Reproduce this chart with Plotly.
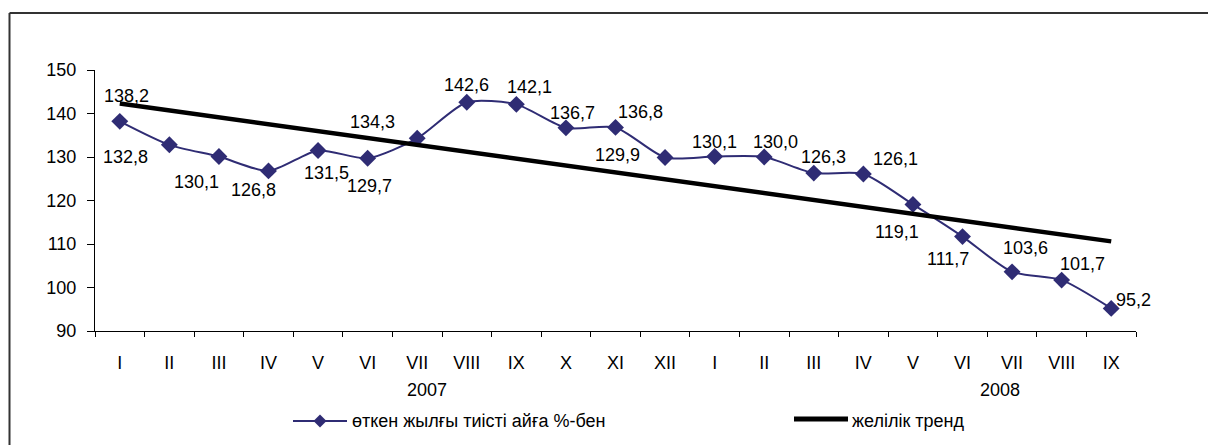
import plotly.graph_objects as go

months = ["I", "II", "III", "IV", "V", "VI", "VII", "VIII", "IX", "X", "XI", "XII",
          "I", "II", "III", "IV", "V", "VI", "VII", "VIII", "IX"]
years = ["2007", "2008"]
values = [138.2, 132.8, 130.1, 126.8, 131.5, 129.7, 134.3, 142.6, 142.1, 136.7, 136.8, 129.9,
          130.1, 130.0, 126.3, 126.1, 119.1, 111.7, 103.6, 101.7, 95.2]
trend_ends = [142.3, 110.6]
series_name = "өткен жылғы тиісті айға %-бен"
trend_name = "желілік тренд"

# label pixel offsets (dx right, dy down) for each data label
label_offsets = [(7, -25), (-44, 12), (-22, 25), (-15, 19), (8, 23), (2, 28), (-45, -16),
                 (0, -17), (13, -17), (7, -15), (25, -15), (-48, -2), (0, -15), (11, -15),
                 (10, -16), (32, -15), (-16, 28), (-15, 22), (13, -24), (21, -16), (22, -8)]

W, H = 1208, 445
L, R, T, B = 95, 72, 70, 114
PW, PH = W - L - R, H - T - B
FONT = "Liberation Sans, Arial, sans-serif"
FS = 18
NAVY = "#2F2C74"

def px(x):  # page pixel x -> paper
    return (x - L) / PW

def py(y):  # page pixel y -> paper
    return (H - B - y) / PH

xs = list(range(len(values)))

fig = go.Figure()
fig.add_trace(go.Scatter(
    x=xs, y=values, mode="lines+markers",
    line=dict(color=NAVY, width=2, shape="spline", smoothing=0.7),
    marker=dict(symbol="diamond", size=13, color=NAVY),
    name=series_name, showlegend=False, cliponaxis=False))
fig.add_trace(go.Scatter(
    x=[xs[0], xs[-1]], y=trend_ends, mode="lines",
    line=dict(color="black", width=4.5),
    name=trend_name, showlegend=False, cliponaxis=False))

annotations = []
for i, v in enumerate(values):
    dx, dy = label_offsets[i]
    annotations.append(dict(x=i, y=v, xref="x", yref="y", text=f"{v:.1f}".replace(".", ","),
                            showarrow=False, xshift=dx, yshift=-dy,
                            font=dict(family=FONT, size=FS, color="black")))
for yr, xpos in zip(years, [6.2, 17.75]):
    annotations.append(dict(x=xpos, y=py(390), xref="x", yref="paper", text=yr,
                            showarrow=False, yanchor="middle",
                            font=dict(family=FONT, size=FS, color="black")))
# manual legend texts
annotations.append(dict(x=px(350), y=py(421), xref="paper", yref="paper", text=series_name,
                        showarrow=False, xanchor="left", yanchor="middle",
                        font=dict(family=FONT, size=FS, color="black")))
annotations.append(dict(x=px(850), y=py(421), xref="paper", yref="paper", text=trend_name,
                        showarrow=False, xanchor="left", yanchor="middle",
                        font=dict(family=FONT, size=FS, color="black")))

shapes = []
# chart border (top and left visible)
shapes.append(dict(type="line", xref="paper", yref="paper", x0=px(9.5), x1=px(1230),
                   y0=py(13), y1=py(13), line=dict(color="#333333", width=2)))
shapes.append(dict(type="line", xref="paper", yref="paper", x0=px(9.5), x1=px(9.5),
                   y0=py(13), y1=py(460), line=dict(color="#333333", width=2)))
# legend symbols
shapes.append(dict(type="line", xref="paper", yref="paper", x0=px(293), x1=px(347),
                   y0=py(421), y1=py(421), line=dict(color=NAVY, width=2)))
cx, cy, s = 320, 421, 6.5
path = (f"M {px(cx - s)},{py(cy)} L {px(cx)},{py(cy - s)} L {px(cx + s)},{py(cy)} "
        f"L {px(cx)},{py(cy + s)} Z")
shapes.append(dict(type="path", xref="paper", yref="paper", path=path,
                   fillcolor=NAVY, line=dict(color=NAVY, width=0)))
shapes.append(dict(type="line", xref="paper", yref="paper", x0=px(794), x1=px(848),
                   y0=py(419), y1=py(419), line=dict(color="black", width=5)))

fig.update_layout(
    width=W, height=H,
    margin=dict(l=L, r=R, t=T, b=B, pad=0),
    paper_bgcolor="white", plot_bgcolor="white",
    showlegend=False,
    font=dict(family=FONT, size=FS, color="black"),
    annotations=annotations, shapes=shapes,
    xaxis=dict(range=[-0.5, len(values) - 0.5], tickmode="array", tickvals=xs, ticktext=months,
               ticks="", showgrid=False, zeroline=False, showline=True, linecolor="black",
               linewidth=1, ticklabelstandoff=15,
               tickfont=dict(family=FONT, size=FS, color="black"),
               minor=dict(tickmode="array", tickvals=[i - 0.5 for i in range(len(values) + 1)],
                          ticks="outside", ticklen=5, tickcolor="black", tickwidth=1,
                          showgrid=False)),
    yaxis=dict(range=[90, 150], tickmode="linear", tick0=90, dtick=10, ticks="outside",
               ticklen=7, tickcolor="black", showgrid=False, zeroline=False, showline=True,
               linecolor="black", linewidth=1, ticklabelstandoff=7,
               tickfont=dict(family=FONT, size=FS, color="black")),
)

fig.write_html("out.html", config={"displayModeBar": False},
               post_script="document.documentElement.style.overflow='hidden';"
                           "document.body.style.margin='0';document.body.style.overflow='hidden';")
